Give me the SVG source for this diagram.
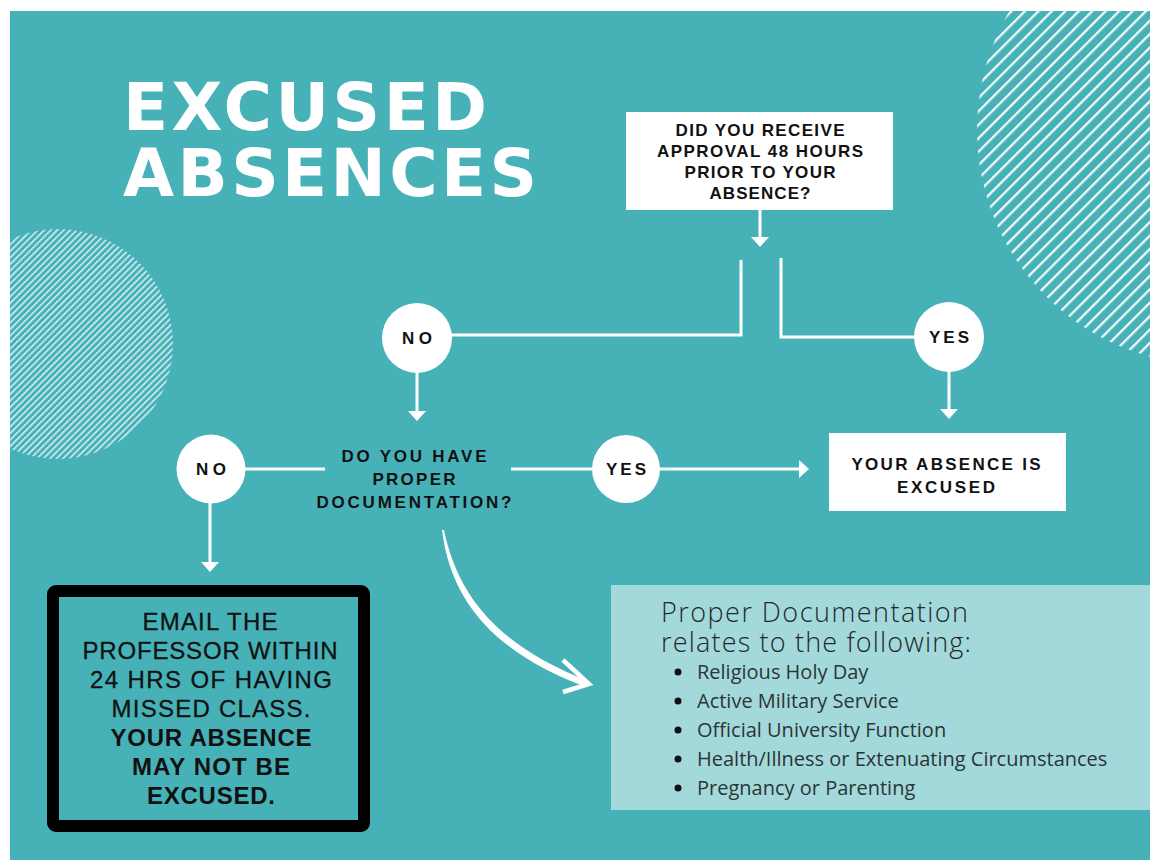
<svg xmlns="http://www.w3.org/2000/svg" width="1150" height="860" viewBox="0 0 1150 860">
  <defs>
    <style>
      .q { font-family: "Liberation Sans", "DejaVu Sans", sans-serif; font-weight: 700; font-size: 17px; fill: #111; text-anchor: middle; }
      .t { font-family: "DejaVu Sans", "Liberation Sans", sans-serif; font-weight: 700; font-size: 66px; fill: #fff; }
      .m { font-family: "Liberation Sans", "DejaVu Sans", sans-serif; font-size: 24px; fill: #111; text-anchor: middle; stroke: #111; stroke-width: 0.3; }
      .mb { font-weight: 700; stroke-width: 0; }
      .c { fill: #fff; }
      .ln { stroke: #fff; stroke-width: 3; fill: none; }
      .ah { fill: #fff; }
      .ih { font-family: "Open Sans", "Liberation Sans", sans-serif; font-weight: 300; font-size: 27px; fill: #1e2a2b; }
      .il { font-family: "Open Sans", "Liberation Sans", sans-serif; font-size: 20px; fill: #2b3536; }
    </style>
    <clipPath id="bgclip"><rect x="10" y="11" width="1140" height="849"/></clipPath>
    <pattern id="hatchR" width="9.5" height="9.5" patternUnits="userSpaceOnUse" patternTransform="rotate(-45)">
      <rect x="0" y="0" width="9.5" height="2.3" fill="#fff" fill-opacity="0.92"/>
    </pattern>
    <pattern id="hatchL" width="4.6" height="4.6" patternUnits="userSpaceOnUse" patternTransform="rotate(-45)">
      <rect x="0" y="0" width="4.6" height="1.5" fill="#fff" fill-opacity="0.8"/>
    </pattern>
  </defs>

  <rect x="0" y="0" width="1150" height="860" fill="#fff"/>
  <rect x="10" y="11" width="1140" height="849" fill="#47b1b8"/>

  <g id="decor" clip-path="url(#bgclip)">
    <circle cx="1212" cy="130" r="235" fill="url(#hatchR)"/>
    <circle cx="58" cy="344" r="115" fill="url(#hatchL)"/>
  </g>

  <g id="title">
    <text class="t" x="123" y="130" textLength="364" lengthAdjust="spacing">EXCUSED</text>
    <text class="t" x="123" y="196" textLength="414" lengthAdjust="spacing">ABSENCES</text>
  </g>

  <g id="connectors">
    <line class="ln" x1="760" y1="210" x2="760" y2="238"/>
    <polygon class="ah" points="751,237 769,237 760,247"/>
    <polyline class="ln" points="741,260 741,335 451,335"/>
    <polyline class="ln" points="781,258 781,337 915,337"/>
    <line class="ln" x1="417" y1="372" x2="417" y2="412"/>
    <polygon class="ah" points="408,411 426,411 417,421"/>
    <line class="ln" x1="949" y1="371" x2="949" y2="410"/>
    <polygon class="ah" points="940,409 958,409 949,419"/>
    <line class="ln" x1="245" y1="469" x2="325" y2="469"/>
    <line class="ln" x1="210" y1="503" x2="210" y2="563"/>
    <polygon class="ah" points="201,562 219,562 210,572"/>
    <line class="ln" x1="511" y1="469" x2="592" y2="469"/>
    <line class="ln" x1="660" y1="469" x2="800" y2="469"/>
    <polygon class="ah" points="799,460 799,478 809,469"/>
    <path d="M442,530 C452,612 508,658 586,687 L588,681 C512,651 460,608 444,530 Z" fill="#fff"/>
    <polyline points="563,660 589,684 563,692" fill="none" stroke="#fff" stroke-width="4.5" stroke-linejoin="miter"/>
  </g>

  <g id="q1">
    <rect x="626" y="112" width="267" height="98" fill="#fff"/>
    <text class="q" x="760" y="136" textLength="169" lengthAdjust="spacing">DID YOU RECEIVE</text>
    <text class="q" x="760" y="157" textLength="206" lengthAdjust="spacing">APPROVAL 48 HOURS</text>
    <text class="q" x="760" y="178" textLength="151" lengthAdjust="spacing">PRIOR TO YOUR</text>
    <text class="q" x="760" y="199" textLength="101" lengthAdjust="spacing">ABSENCE?</text>
  </g>

  <g id="no1">
    <circle class="c" cx="417" cy="338" r="35"/>
    <text class="q" x="417" y="344" textLength="30" lengthAdjust="spacing">NO</text>
  </g>

  <g id="yes1">
    <circle class="c" cx="949" cy="337" r="35"/>
    <text class="q" x="949" y="343" textLength="40" lengthAdjust="spacing">YES</text>
  </g>

  <g id="q2">
    <text class="q" x="414" y="462" textLength="145" lengthAdjust="spacing">DO YOU HAVE</text>
    <text class="q" x="414" y="485" textLength="83" lengthAdjust="spacing">PROPER</text>
    <text class="q" x="414" y="508" textLength="195" lengthAdjust="spacing">DOCUMENTATION?</text>
  </g>

  <g id="no2">
    <circle class="c" cx="211" cy="469" r="34.5"/>
    <text class="q" x="211" y="475" textLength="30" lengthAdjust="spacing">NO</text>
  </g>

  <g id="yes2">
    <circle class="c" cx="626" cy="469" r="34"/>
    <text class="q" x="626" y="475" textLength="40" lengthAdjust="spacing">YES</text>
  </g>

  <g id="excused">
    <rect x="829" y="433" width="237" height="78" fill="#fff"/>
    <text class="q" x="946" y="470" textLength="189" lengthAdjust="spacing">YOUR ABSENCE IS</text>
    <text class="q" x="946" y="493" textLength="98" lengthAdjust="spacing">EXCUSED</text>
  </g>

  <g id="email">
    <rect x="53" y="591" width="311" height="235" rx="3" fill="#47b1b8" stroke="#000" stroke-width="12"/>
    <text class="m" x="210" y="630" textLength="135" lengthAdjust="spacing">EMAIL THE</text>
    <text class="m" x="210" y="659" textLength="255" lengthAdjust="spacing">PROFESSOR WITHIN</text>
    <text class="m" x="211" y="688" textLength="242" lengthAdjust="spacing">24 HRS OF HAVING</text>
    <text class="m" x="211" y="717" textLength="199" lengthAdjust="spacing">MISSED CLASS.</text>
    <text class="m mb" x="211" y="746" textLength="201" lengthAdjust="spacing">YOUR ABSENCE</text>
    <text class="m mb" x="211" y="775" textLength="158" lengthAdjust="spacing">MAY NOT BE</text>
    <text class="m mb" x="211" y="804" textLength="128" lengthAdjust="spacing">EXCUSED.</text>
  </g>

  <g id="docs">
    <rect x="611" y="585" width="539" height="225" fill="#a4d9dc"/>
    <text class="ih" x="661" y="622" textLength="307" lengthAdjust="spacing">Proper Documentation</text>
    <text class="ih" x="661" y="652" textLength="310" lengthAdjust="spacing">relates to the following:</text>
    <circle cx="678" cy="672" r="3.5" fill="#111"/>
    <text class="il" x="697" y="679">Religious Holy Day</text>
    <circle cx="678" cy="701" r="3.5" fill="#111"/>
    <text class="il" x="697" y="708">Active Military Service</text>
    <circle cx="678" cy="730" r="3.5" fill="#111"/>
    <text class="il" x="697" y="737">Official University Function</text>
    <circle cx="678" cy="759" r="3.5" fill="#111"/>
    <text class="il" x="697" y="766">Health/Illness or Extenuating Circumstances</text>
    <circle cx="678" cy="788" r="3.5" fill="#111"/>
    <text class="il" x="697" y="795">Pregnancy or Parenting</text>
  </g>
</svg>
